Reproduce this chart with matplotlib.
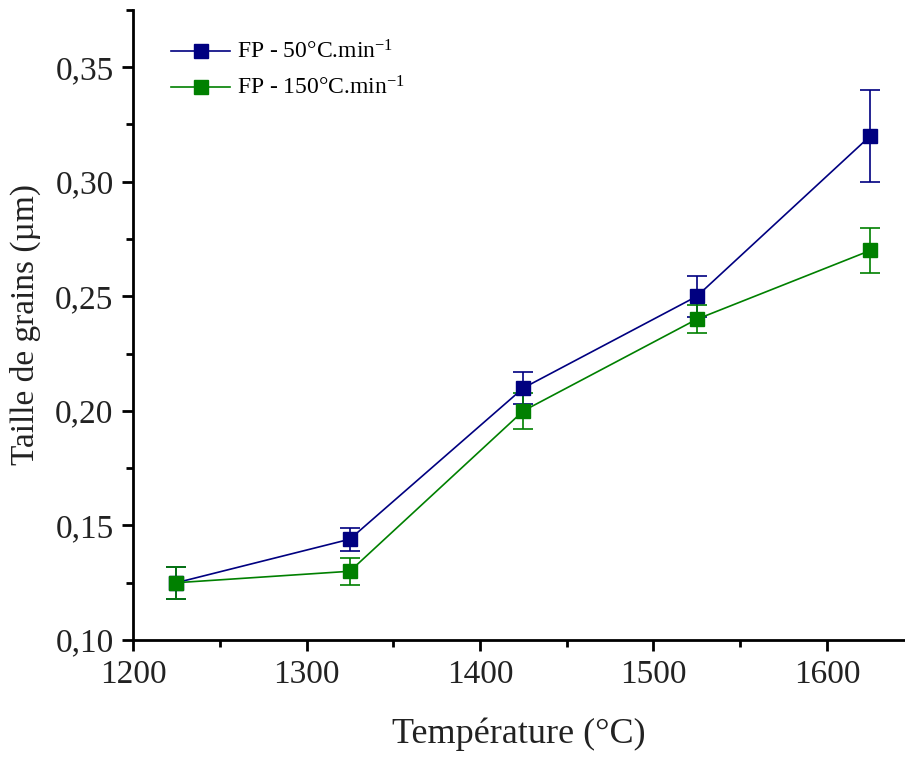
import numpy as np
import matplotlib.pyplot as plt
from matplotlib.ticker import MultipleLocator, FuncFormatter
from matplotlib.lines import Line2D

plt.rcParams['font.family'] = ['Liberation Serif', 'DejaVu Serif']
plt.rcParams['mathtext.fontset'] = 'custom'
plt.rcParams['mathtext.rm'] = 'Liberation Serif'
plt.rcParams['mathtext.it'] = 'Liberation Serif:italic'

temp = [1225, 1325, 1425, 1525, 1625]
size_50 = [0.125, 0.144, 0.210, 0.250, 0.320]
err_50 = [0.007, 0.005, 0.007, 0.009, 0.020]
size_150 = [0.125, 0.130, 0.200, 0.240, 0.270]
err_150 = [0.007, 0.006, 0.008, 0.006, 0.010]
labels = [r'FP - 50°C.min$^{\mathrm{-1}}$', r'FP - 150°C.min$^{\mathrm{-1}}$']
colors = ['#000080', '#008000']

fig = plt.figure(figsize=(9.05, 7.61), dpi=100)
ax = fig.add_axes([0.147, 0.159, 0.853, 0.828])

handles = []
for y, e, c, lab in zip([size_50, size_150], [err_50, err_150], colors, labels):
    ax.errorbar(temp, y, yerr=e, color=c, lw=1.2, marker='s', ms=10,
                capsize=7, elinewidth=1.2, capthick=1.2)
    handles.append(Line2D([], [], color=c, lw=1.2, marker='s', ms=10, label=lab))

ax.set_xlim(1200, 1645)
ax.set_ylim(0.10, 0.375)
ax.xaxis.set_major_locator(MultipleLocator(100))
ax.xaxis.set_minor_locator(MultipleLocator(50))
ax.yaxis.set_major_locator(MultipleLocator(0.05))
ax.yaxis.set_minor_locator(MultipleLocator(0.025))
ax.yaxis.set_major_formatter(FuncFormatter(lambda v, p: f"{v:.2f}".replace('.', ',')))

for s in ['top', 'right']:
    ax.spines[s].set_visible(False)
for s in ['left', 'bottom']:
    ax.spines[s].set_linewidth(2)

ax.tick_params(which='major', direction='out', length=8, width=2, labelsize=24,
               pad=6, labelcolor='#222222')
ax.tick_params(which='minor', direction='out', length=5, width=2)

ax.set_xlabel('Température (°C)', fontsize=26, labelpad=20, color='#222222')
ax.set_ylabel('Taille de grains (µm)', fontsize=24, labelpad=10, color='#222222')

ax.legend(handles=handles, loc='upper left', bbox_to_anchor=(0.022, 0.985),
          frameon=False, fontsize=17, handlelength=2.5, handletextpad=0.3,
          labelspacing=0.55)

fig.savefig('out.png', dpi=100)
